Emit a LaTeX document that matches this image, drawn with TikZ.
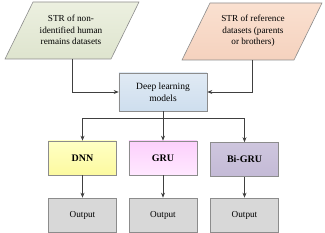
\documentclass[tikz,border=0pt]{standalone}
\usepackage{fontspec}
\setmainfont{Liberation Serif}
\usetikzlibrary{arrows.meta}
\definecolor{brd}{HTML}{8C8C8C}
\definecolor{ln}{HTML}{404040}
\tikzset{
  box/.style={draw=brd, line width=0.6pt, minimum width=68pt, minimum height=34pt, inner sep=1pt, align=center, font=\fontsize{9.2}{11}\selectfont},
  boldbox/.style={box, font=\fontsize{10}{12}\selectfont\bfseries},
  para/.style={draw=brd, line width=0.6pt},
  txt/.style={align=center, font=\fontsize{9.2}{11.7}\selectfont, inner sep=0pt},
  conn/.style={draw=ln, line width=0.7pt, -{Stealth[length=5pt,width=4pt]}},
  plain/.style={draw=ln, line width=0.7pt},
}
\begin{document}
\begin{tikzpicture}[x=1pt,y=-1pt]
\useasboundingbox (0,0) rectangle (325,233);
% parallelograms
\path[para, top color={rgb,255:red,236;green,240;blue,224}, bottom color={rgb,255:red,222;green,228;blue,206}]
  (33,2) -- (139,2) -- (111,59) -- (5,59) -- cycle;
\path[para, top color={rgb,255:red,250;green,224;blue,208}, bottom color={rgb,255:red,245;green,210;blue,190}]
  (210,3) -- (322,3) -- (294,60) -- (182,60) -- cycle;
\node[txt] (in1) at (71,30) {STR of non-\\identified human\\remains datasets};
\node[txt] (in2) at (253,31) {STR of reference\\datasets (parents\\or brothers)};
\coordinate (in1b) at (72,59);
\coordinate (in2b) at (252,60);
% deep learning
\node[box, font=\fontsize{9.5}{12}\selectfont, minimum width=88pt, minimum height=38pt, top color={rgb,255:red,224;green,234;blue,244}, bottom color={rgb,255:red,206;green,222;blue,238}] (dl) at (163,92) {Deep learning\\models};
% models
\node[boldbox, top color={rgb,255:red,255;green,255;blue,196}, bottom color={rgb,255:red,252;green,250;blue,160}] (dnn) at (82.5,158) {DNN};
\node[boldbox, top color={rgb,255:red,252;green,208;blue,252}, bottom color={rgb,255:red,255;green,232;blue,255}] (gru) at (163,158) {GRU};
\node[boldbox, top color={rgb,255:red,206;green,198;blue,222}, bottom color={rgb,255:red,196;green,186;blue,214}] (bigru) at (244.5,159.5) {Bi-GRU};
% outputs
\node[box, fill={rgb,255:red,216;green,216;blue,216}] (o1) at (82.5,215) {Output};
\node[box, fill={rgb,255:red,216;green,216;blue,216}] (o2) at (163,215) {Output};
\node[box, fill={rgb,255:red,216;green,216;blue,216}] (o3) at (244.5,215) {Output};
% connectors
\draw[conn] (in1b) |- (dl.west);
\draw[conn] (in2b) |- (dl.east);
\coordinate (br) at (163,118);
\draw[plain] (dl.south) -- (br);
\draw[conn] (br) -| (dnn.north);
\draw[conn] (br) -- (gru.north);
\draw[conn] (br) -| (bigru.north);
\draw[conn] (dnn) -- (o1);
\draw[conn] (gru) -- (o2);
\draw[conn] (bigru) -- (o3);
\end{tikzpicture}
\end{document}
